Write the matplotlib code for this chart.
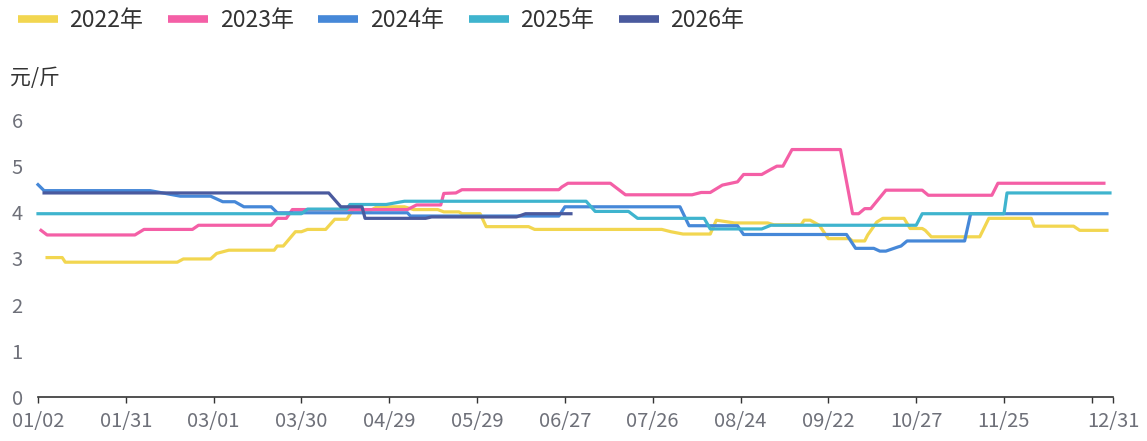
import pandas as pd
import matplotlib
matplotlib.use('Agg')
import matplotlib.pyplot as plt
from matplotlib.lines import Line2D

plt.rcParams['font.family'] = ['Noto Sans CJK SC', 'DejaVu Sans']

# category axis: calendar days, a few closed days are left out
skip_days = ['04/05', '05/01', '10/01', '10/02', '10/03', '10/04', '10/05', '10/06']
all_days = pd.date_range('2023-01-02', '2023-12-31').strftime('%m/%d')
categories = [d for d in all_days if d not in skip_days]

tick_labels = ['01/02', '01/31', '03/01', '03/30', '04/29', '05/29', '06/27',
               '07/26', '08/24', '09/22', '10/27', '11/25', '12/31']
hidden_tick = '12/24'

series_names = ['2022年', '2023年', '2024年', '2025年', '2026年']
colors = ['#F2D650', '#F45FA6', '#4688D8', '#3FB4CE', '#4A5A9E']

# price points (元/斤)
dates_2022 = ['01/05', '01/10', '01/11', '02/17', '02/19', '02/28', '03/02', '03/06', '03/21', '03/22',
              '03/24', '03/28', '03/30', '04/01', '04/08', '04/11', '04/15', '04/17', '04/23', '04/25',
              '05/05', '05/08', '05/16', '05/18', '05/23', '05/24', '05/30', '06/01', '06/15', '06/17',
              '07/29', '08/01', '08/05', '08/14', '08/16', '08/22', '09/02', '09/04', '09/13', '09/14',
              '09/16', '09/19', '09/22', '09/29', '09/30', '10/10', '10/11', '10/14', '10/16', '10/23',
              '10/25', '10/29', '10/30', '11/01', '11/17', '11/20', '12/04', '12/05', '12/18', '12/20',
              '12/29']
price_2022 = [3.02, 3.02, 2.92, 2.92, 2.99, 2.99, 3.11, 3.18, 3.18, 3.27,
              3.27, 3.58, 3.58, 3.63, 3.63, 3.85, 3.85, 4.05, 4.05, 4.12,
              4.12, 4.06, 4.06, 4.01, 4.01, 3.97, 3.97, 3.69, 3.69, 3.63,
              3.63, 3.58, 3.53, 3.53, 3.83, 3.77, 3.77, 3.73, 3.73, 3.83,
              3.83, 3.72, 3.43, 3.43, 3.38, 3.38, 3.51, 3.79, 3.87, 3.87,
              3.65, 3.65, 3.61, 3.47, 3.47, 3.87, 3.87, 3.70, 3.70, 3.61,
              3.61]

dates_2023 = ['01/03', '01/05', '02/03', '02/06', '02/22', '02/24', '03/20', '03/22', '03/25', '03/27',
              '05/06', '05/09', '05/17', '05/18', '05/22', '05/24', '06/25', '06/26', '06/28', '07/12',
              '07/17', '08/08', '08/11', '08/14', '08/17', '08/18', '08/23', '08/25', '08/31', '09/03',
              '09/05', '09/07', '09/10', '09/26', '09/30', '10/08', '10/10', '10/12', '10/17', '10/29',
              '10/31', '11/21', '11/23', '12/28']
price_2023 = [3.61, 3.51, 3.51, 3.63, 3.63, 3.72, 3.72, 3.87, 3.87, 4.06,
              4.06, 4.16, 4.16, 4.41, 4.42, 4.49, 4.49, 4.55, 4.63, 4.63,
              4.38, 4.38, 4.43, 4.43, 4.55, 4.59, 4.66, 4.82, 4.82, 4.93,
              5.00, 5.00, 5.36, 5.36, 3.97, 3.97, 4.08, 4.08, 4.48, 4.48,
              4.37, 4.37, 4.63, 4.63]

dates_2024 = ['01/02', '01/04', '02/08', '02/18', '02/28', '03/04', '03/08', '03/11', '03/20', '03/22',
              '05/06', '05/07', '06/25', '06/27', '08/04', '08/07', '08/23', '08/25', '09/28', '10/07',
              '10/13', '10/15', '10/17', '10/21', '10/22', '10/24', '11/12', '11/14', '12/29']
price_2024 = [4.60, 4.47, 4.47, 4.35, 4.35, 4.23, 4.23, 4.12, 4.12, 3.99,
              3.99, 3.92, 3.92, 4.12, 4.12, 3.71, 3.71, 3.52, 3.52, 3.22,
              3.22, 3.16, 3.16, 3.25, 3.27, 3.38, 3.38, 3.97, 3.97]

dates_2025 = ['01/02', '03/30', '04/01', '04/15', '04/16', '04/28', '05/05', '07/04', '07/07', '07/18',
              '07/21', '08/12', '08/14', '08/31', '09/03', '10/27', '10/29', '11/25', '11/26', '12/30']
price_2025 = [3.97, 3.97, 4.07, 4.07, 4.17, 4.17, 4.24, 4.24, 4.02, 4.02,
              3.87, 3.87, 3.64, 3.64, 3.72, 3.72, 3.97, 3.97, 4.42, 4.42]

dates_2026 = ['01/04', '04/09', '04/13', '04/20', '04/21', '05/12', '05/14', '06/11', '06/14', '06/29']
price_2026 = [4.42, 4.42, 4.12, 4.12, 3.87, 3.87, 3.90, 3.90, 3.97, 3.97]

all_dates = [dates_2022, dates_2023, dates_2024, dates_2025, dates_2026]
all_prices = [price_2022, price_2023, price_2024, price_2025, price_2026]

pos = {d: i for i, d in enumerate(categories)}

fig = plt.figure(figsize=(11.47, 4.41), dpi=100)
ax = fig.add_axes([38 / 1147, 44 / 441, 1075 / 1147, 277 / 441])

for name, c, ds, ps in zip(series_names, colors, all_dates, all_prices):
    ax.plot([pos[d] for d in ds], ps, color=c, lw=2.3, label=name,
            solid_joinstyle='round', clip_on=False)

ax.set_xlim(0, len(categories) - 1)
ax.set_ylim(0, 6)

ticks = [pos[d] for d in tick_labels[:-1]] + [pos[hidden_tick], pos[tick_labels[-1]]]
labels = tick_labels[:-1] + ['', tick_labels[-1]]
ax.set_xticks(ticks)
ax.set_xticklabels(labels)
ax.set_yticks(range(7))

for s in ['top', 'right', 'left']:
    ax.spines[s].set_visible(False)
ax.spines['bottom'].set_color('#333333')
ax.spines['bottom'].set_linewidth(1.2)
ax.tick_params(axis='x', length=4, width=1, color='#333333', pad=6,
               labelsize=14.5, labelcolor='#6E7079')
ax.tick_params(axis='y', length=0, pad=11, labelsize=14.5, labelcolor='#6E7079')

fig.text(10 / 1147, 1 - 78 / 441, '元/斤', fontsize=15, color='#333333',
         ha='left', va='center')

handles = [Line2D([], [], color=c, lw=5.5, solid_capstyle='butt') for c in colors]
fig.legend(handles, series_names, loc='upper left', bbox_to_anchor=(18 / 1147, 1 - 9 / 441),
           ncol=5, frameon=False, fontsize=16.5, labelcolor='#333333',
           handlelength=1.75, handletextpad=0.5, columnspacing=1.08,
           borderpad=0, borderaxespad=0)

fig.savefig('out.png', dpi=100)
